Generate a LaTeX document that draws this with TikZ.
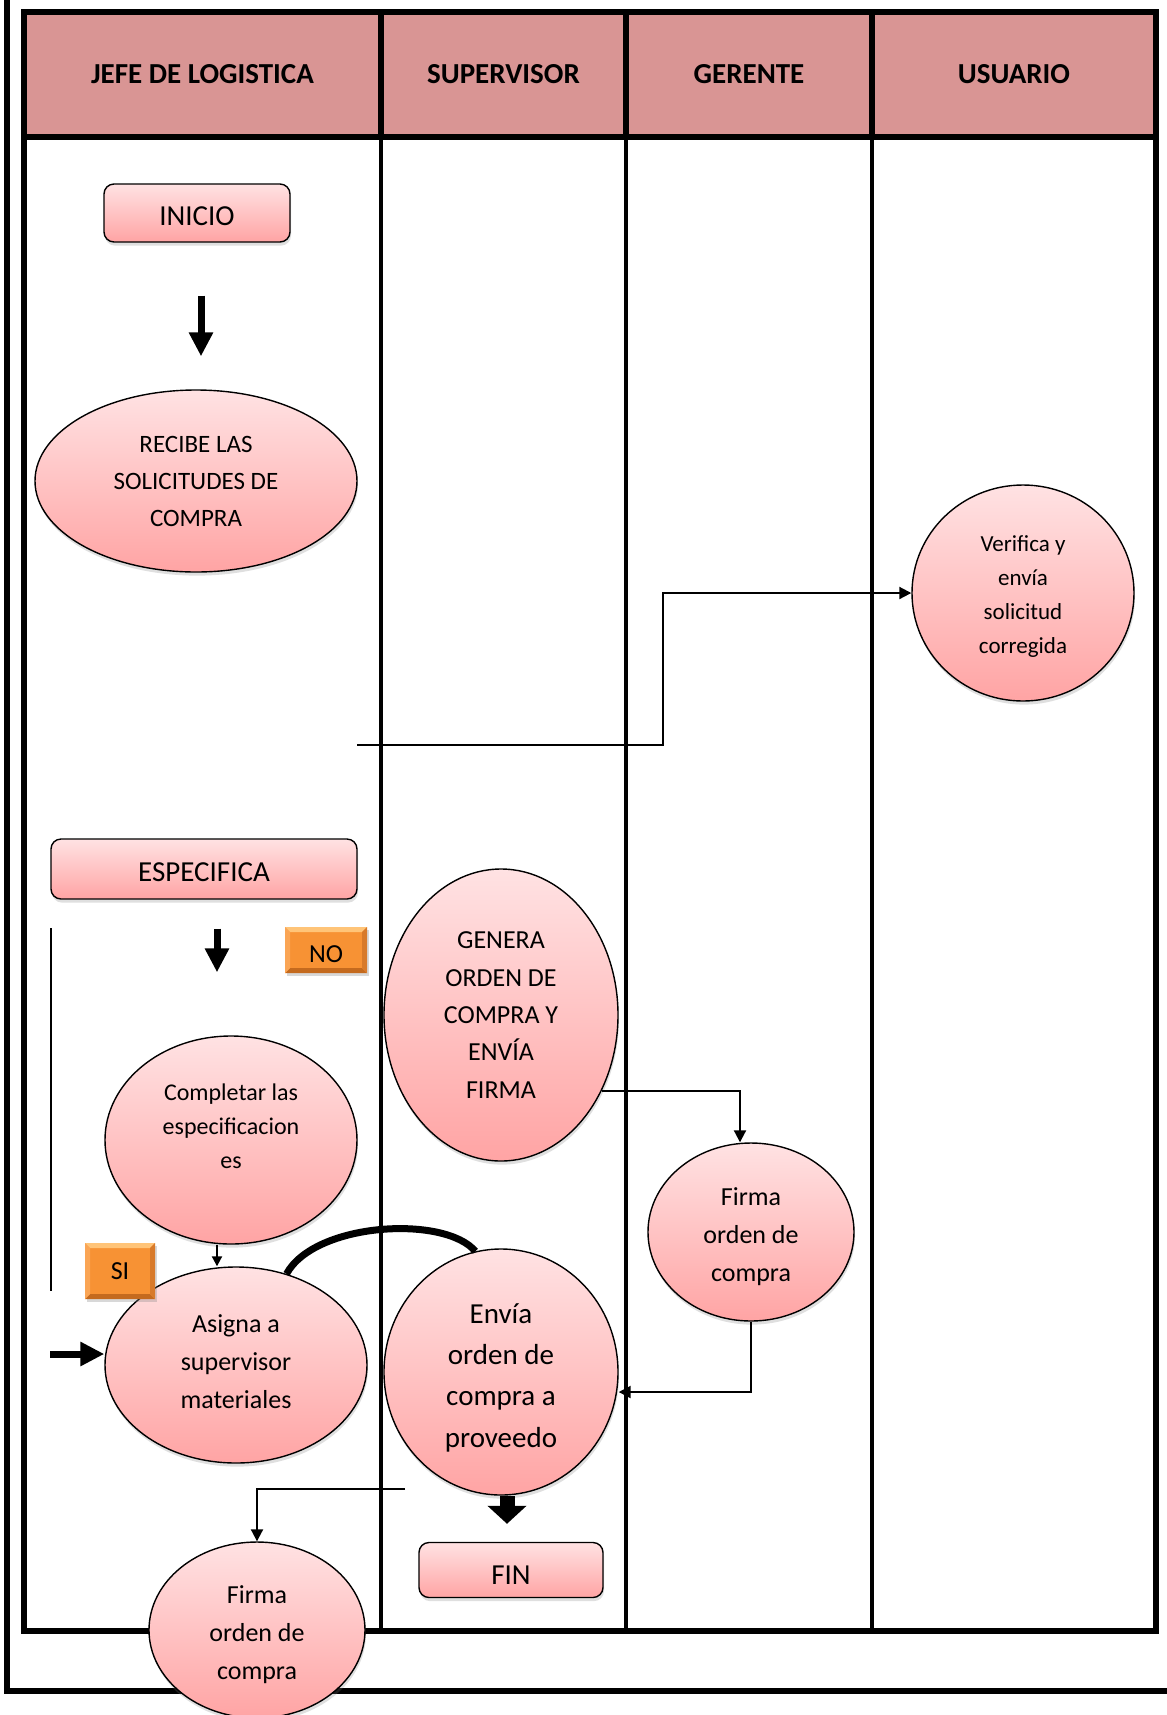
\documentclass[tikz,border=0pt]{standalone}
\usepackage{fontspec}
\setmainfont{Carlito}
\usetikzlibrary{arrows.meta,shapes.geometric,shadows,calc}
\definecolor{hdrfill}{RGB}{217,149,148}
\definecolor{pinktop}{RGB}{255,226,227}
\definecolor{pinkbot}{RGB}{255,164,164}
\definecolor{orgface}{RGB}{247,146,52}
\definecolor{orgtopb}{RGB}{255,196,120}
\definecolor{orgbotb}{RGB}{196,106,30}
\definecolor{orgleftb}{RGB}{250,165,85}
\definecolor{orgrightb}{RGB}{216,122,42}
\begin{document}
\begin{tikzpicture}[x=0.5pt,y=-0.5pt,
  hdr/.style={fill=hdrfill, font=\fontsize{14.5}{17}\selectfont\bfseries, inner sep=0pt},
  pinkfill/.style={top color=pinktop, bottom color=pinkbot, draw=black, line width=0.7pt,
    drop shadow={shadow xshift=0.5pt, shadow yshift=-1.8pt, opacity=0.25}},
  procell/.style={pinkfill, ellipse, inner sep=0pt, align=center},
  termbox/.style={pinkfill, rounded corners=5pt, inner sep=0pt, text depth=0pt, font=\fontsize{14.5}{17}\selectfont},
  tagbox/.style={fill=orgface, inner sep=0pt, text depth=0pt,
    font=\fontsize{13}{15}\selectfont, drop shadow={shadow xshift=0.8pt, shadow yshift=-1.6pt, opacity=0.3},
    path picture={
      \fill[orgtopb] (path picture bounding box.north west) -- (path picture bounding box.north east)
        -- ([xshift=-2.5pt,yshift=-2.5pt]path picture bounding box.north east)
        -- ([xshift=2.5pt,yshift=-2.5pt]path picture bounding box.north west) -- cycle;
      \fill[orgbotb] (path picture bounding box.south west) -- (path picture bounding box.south east)
        -- ([xshift=-2.5pt,yshift=2.5pt]path picture bounding box.south east)
        -- ([xshift=2.5pt,yshift=2.5pt]path picture bounding box.south west) -- cycle;
      \fill[orgleftb] (path picture bounding box.north west) -- (path picture bounding box.south west)
        -- ([xshift=2.5pt,yshift=2.5pt]path picture bounding box.south west)
        -- ([xshift=2.5pt,yshift=-2.5pt]path picture bounding box.north west) -- cycle;
      \fill[orgrightb] (path picture bounding box.north east) -- (path picture bounding box.south east)
        -- ([xshift=-2.5pt,yshift=2.5pt]path picture bounding box.south east)
        -- ([xshift=-2.5pt,yshift=-2.5pt]path picture bounding box.north east) -- cycle;
    }},
  conn/.style={line width=1pt, -{Triangle[length=6pt,width=6pt]}},
  bigarrow/.style={line width=3.5pt, -{Triangle[length=12pt,width=11.5pt]}},
  fatarrow/.style={line width=7.5pt, -{Triangle[length=9pt,width=19pt]}},
  thickcurve/.style={line width=3.5pt},
]
\useasboundingbox (0,0) rectangle (1167,1715);
\fill[white] (0,0) rectangle (1167,1715);

% page frame
\draw[line width=3pt] (7,0) -- (7,1691) -- (1167,1691);

% header cells
\node[hdr, minimum width=178.5pt, minimum height=63pt] (h1) at (202.5,74) {JEFE DE LOGISTICA};
\node[hdr, minimum width=122.5pt, minimum height=63pt] (h2) at (503.5,74) {SUPERVISOR};
\node[hdr, minimum width=123pt, minimum height=63pt] (h3) at (749,74) {GERENTE};
\node[hdr, minimum width=142pt, minimum height=63pt] (h4) at (1014,74) {USUARIO};

% table lines
\draw[line width=3pt] (381,11) -- (381,137) (626,11) -- (626,137) (872,11) -- (872,137);
\draw[line width=2pt] (381,137) -- (381,1632) (626,137) -- (626,1632) (872,137) -- (872,1632);
\draw[line width=3pt] (24,137) -- (1156,137);
\draw[line width=3pt] (24,11.5) rectangle (1156,1631);

% thin side line
\draw[line width=0.75pt] (51,928) -- (51,1291);

% free connector ends
\coordinate (c1) at (357,745);
\coordinate (c2) at (405,1489);

% nodes
\node[termbox, minimum width=93pt, minimum height=29pt, text height=12.6pt] (inicio) at (197,213) {INICIO};
\node[procell, minimum width=161pt, minimum height=91pt, font=\fontsize{12.5}{18.5}\selectfont] (recibe) at (196,481) {RECIBE LAS\\SOLICITUDES DE\\COMPRA};
\node[procell, minimum width=111pt, minimum height=108pt, font=\fontsize{11.5}{17}\selectfont] (verif) at (1023,593) {\rule{0pt}{11.5pt}Verifica y\\envía\\solicitud\\corregida};
\node[termbox, minimum width=153pt, minimum height=30pt, text height=12.6pt] (espec) at (204,869) {ESPECIFICA};
\node[tagbox, minimum width=41pt, minimum height=23pt, text height=12.8pt] (no) at (326,950) {NO};
\node[procell, minimum width=126pt, minimum height=104pt, font=\fontsize{12}{17}\selectfont] (compl) at (231,1140) {\rule{0pt}{11.5pt}Completar las\\especificacion\\es\\ \mbox{}};
\node[procell, minimum width=131pt, minimum height=98pt, font=\fontsize{13}{19}\selectfont] (asigna) at (236,1365) {Asigna a\\supervisor\\materiales\rule[-3.3pt]{0pt}{3.3pt}};
\node[tagbox, minimum width=35pt, minimum height=28pt] (si) at (120,1271) {SI};
\node[procell, minimum width=117pt, minimum height=146pt, font=\fontsize{13}{18.7}\selectfont] (genera) at (501,1015) {GENERA\\ORDEN DE\\COMPRA Y\\ENVÍA\\FIRMA};
\node[procell, minimum width=103pt, minimum height=89pt, font=\fontsize{13}{19}\selectfont] (firmag) at (751,1232) {\rule{0pt}{14pt}Firma\\orden de\\compra};
\node[procell, minimum width=117pt, minimum height=123pt, font=\fontsize{14.5}{20.7}\selectfont] (envia) at (501,1372) {\rule{0pt}{15.5pt}Envía\\orden de\\compra a\\proveedo};
\node[termbox, minimum width=92pt, minimum height=27.5pt, text height=14.8pt] (fin) at (511,1570) {FIN};
\node[procell, minimum width=108pt, minimum height=88pt, font=\fontsize{13}{19}\selectfont] (firmaj) at (257,1630) {\rule{0pt}{13.5pt}Firma\\orden de\\compra};

% arrows
\draw[bigarrow, shorten <=26.5pt, shorten >=16.5pt] ([xshift=2pt]inicio.south) -- ([xshift=2.5pt]recibe.north);
\draw[conn] (c1) -| ([xshift=-124pt]verif.west) -- (verif.west);
\draw[bigarrow, shorten <=14.5pt, shorten >=31.5pt] ([xshift=6.5pt]espec.south) -- ([xshift=-7pt]compl.north);
\draw[line width=1pt, -{Triangle[length=5pt,width=5pt]}] ([xshift=-7pt]compl.south) -- ([xshift=-9.5pt]asigna.north);
\draw[bigarrow] ([xshift=-27pt,yshift=5.5pt]asigna.west) -- ([yshift=5.5pt]asigna.west);
\draw[thickcurve] (asigna.61) .. controls (315,1222) and (445,1215) .. (envia.102);
\draw[conn] (genera.-37) -| ([xshift=-5.5pt]firmag.north);
\draw[conn] (firmag.south) |- ([yshift=-10pt]envia.east);
\draw[conn] (c2) -| (firmaj.north);
\draw[fatarrow, shorten >=9pt] ([xshift=3pt]envia.south) -- ([xshift=-2pt]fin.north);
\end{tikzpicture}
\end{document}
